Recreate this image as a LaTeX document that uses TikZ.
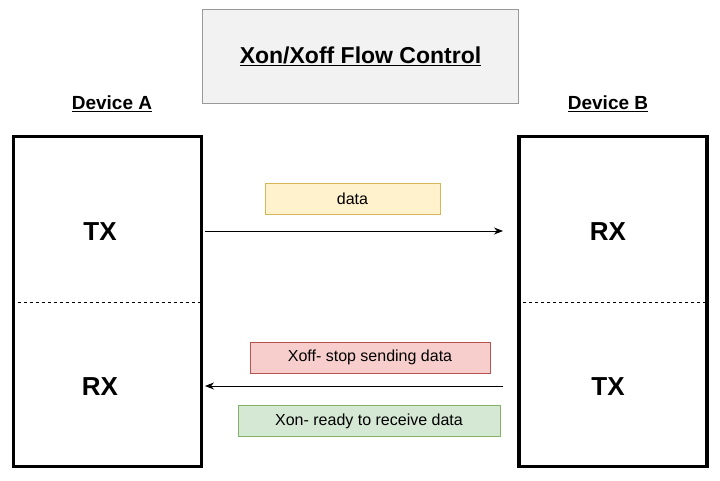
\documentclass[tikz,border=0pt]{standalone}
\usepackage{fontspec}
\setmainfont{Liberation Sans}
\usetikzlibrary{positioning,arrows.meta}
\definecolor{notefill}{HTML}{FFF2CC}\definecolor{notedraw}{HTML}{D6B656}
\definecolor{stopfill}{HTML}{F8CECC}\definecolor{stopdraw}{HTML}{B85450}
\definecolor{gofill}{HTML}{D5E8D4}\definecolor{godraw}{HTML}{82B366}
\tikzset{
  device/.style={draw, line width=3.5pt, minimum width=188pt, minimum height=330pt, inner sep=0pt},
  port/.style={font=\fontsize{26}{30}\selectfont\bfseries},
  head/.style={font=\fontsize{19}{22}\selectfont\bfseries},
  msg/.style={draw, font=\fontsize{16}{18}\selectfont, inner sep=0pt, minimum height=31pt},
  flow/.style={-{Stealth[length=9pt,width=7pt]}, thick}
}
\begin{document}
\begin{tikzpicture}[x=1pt,y=-1pt]
  \useasboundingbox (0,0) rectangle (720,481);
  % title
  \node[draw=gray!80, fill=gray!10, minimum width=316pt, minimum height=94pt, inner sep=0pt,
        font=\fontsize{23}{26}\selectfont\bfseries] (title) at (360.5,56) {\underline{Xon/Xoff Flow Control}};
  % devices
  \node[head] (nameA) at (112,104) {\underline{Device A}};
  \node[head] (nameB) at (608,104) {\underline{Device B}};
  \node[device] (devA) at (107.5,301.5) {};
  \node[device] (devB) at (613,301.5) {};
  \draw[dashed] (devA.west |- 0,302) -- (devA.east |- 0,302);
  \draw[dashed] (devB.west |- 0,302) -- (devB.east |- 0,302);
  \node[port] (txA) at (100,232) {TX};
  \node[port] (rxA) at (100,387) {RX};
  \node[port] (rxB) at (608,232) {RX};
  \node[port] (txB) at (608,387) {TX};
  % messages
  \coordinate (outA) at (205,231);
  \coordinate (inB) at (503,231);
  \coordinate (outB) at (503,386);
  \coordinate (inA) at (205,386);
  \draw[flow] (outA) -- (inB);
  \draw[flow] (outB) -- (inA);
  \node[msg, fill=notefill, draw=notedraw, minimum width=175pt] (data) at (352.5,199) {data};
  \node[msg, fill=stopfill, draw=stopdraw, minimum width=240pt] (xoff) at (370,357.5) {Xoff- stop sending data};
  \node[msg, fill=gofill, draw=godraw, minimum width=262pt] (xon) at (369,421) {Xon- ready to receive data};
\end{tikzpicture}
\end{document}
